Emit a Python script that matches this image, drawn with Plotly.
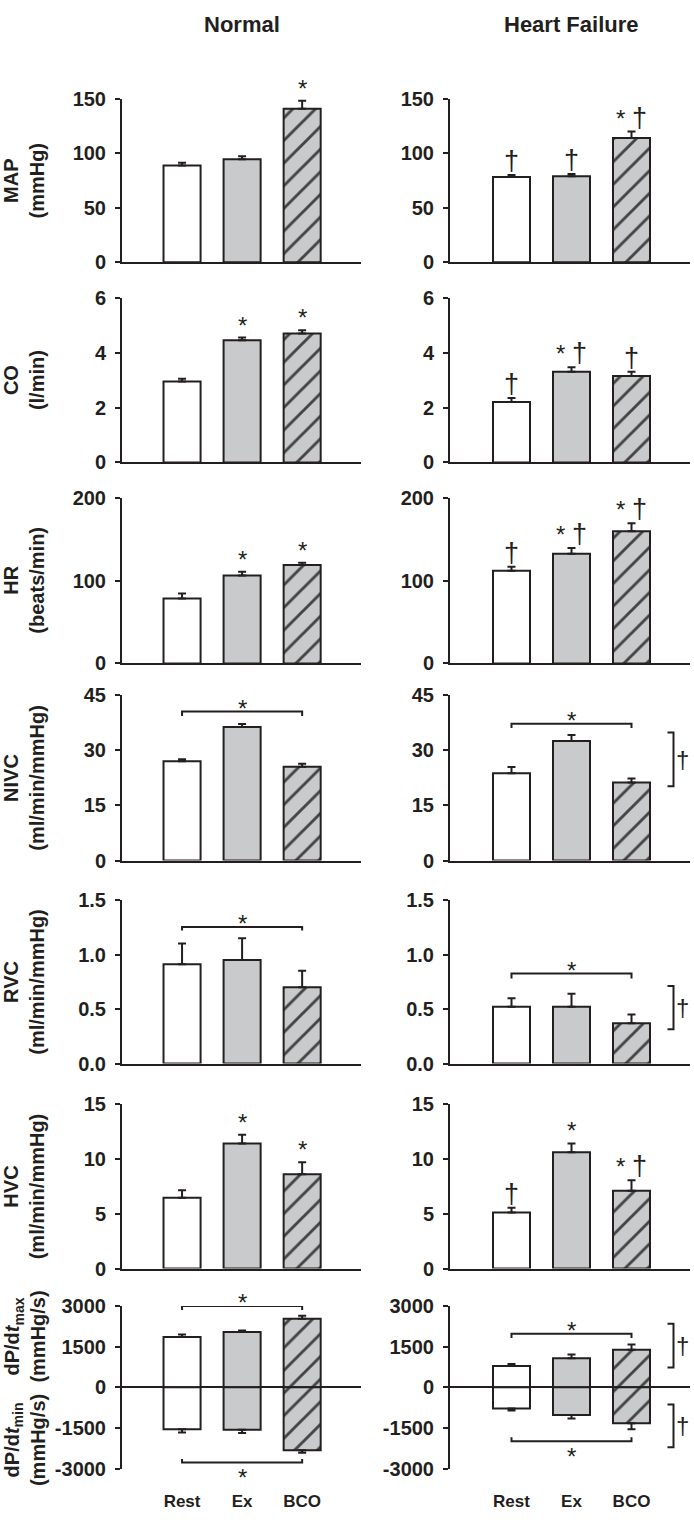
import plotly.graph_objects as go

W, H = 694, 1524
INK = "#231f20"
GRAY = "#c9cacc"
FONT = "Liberation Sans, Arial, sans-serif"

categories = ["Rest", "Ex", "BCO"]
xpos = [0, 1, 2]

# ---- data (mean and upward/outward error) ----
map_normal = [88.8, 94.6, 140.7]
map_normal_err = [2.5, 2.7, 7.5]
map_hf = [78.3, 78.9, 113.9]
map_hf_err = [1.8, 2.1, 6.0]

co_normal = [2.95, 4.45, 4.70]
co_normal_err = [0.10, 0.10, 0.12]
co_hf = [2.20, 3.30, 3.15]
co_hf_err = [0.15, 0.17, 0.15]

hr_normal = [78.5, 106.3, 118.8]
hr_normal_err = [6.0, 4.5, 2.7]
hr_hf = [112.0, 132.6, 159.7]
hr_hf_err = [4.7, 6.8, 9.6]

nivc_normal = [27.0, 36.3, 25.5]
nivc_normal_err = [0.5, 0.8, 0.8]
nivc_hf = [23.7, 32.5, 21.2]
nivc_hf_err = [1.7, 1.6, 1.1]

rvc_normal = [0.91, 0.95, 0.70]
rvc_normal_err = [0.19, 0.20, 0.15]
rvc_hf = [0.52, 0.52, 0.37]
rvc_hf_err = [0.08, 0.12, 0.08]

hvc_normal = [6.45, 11.4, 8.6]
hvc_normal_err = [0.7, 0.8, 1.1]
hvc_hf = [5.1, 10.6, 7.1]
hvc_hf_err = [0.45, 0.8, 0.95]

dpmax_normal = [1860, 2040, 2530]
dpmax_normal_err = [85, 60, 110]
dpmin_normal = [-1545, -1565, -2325]
dpmin_normal_err = [120, 120, 85]
dpmax_hf = [790, 1070, 1385]
dpmax_hf_err = [72, 146, 194]
dpmin_hf = [-777, -1020, -1324]
dpmin_hf_err = [73, 134, 219]

# ---- significance marks above bars ----
sig_map_normal = ["", "", "*"]
sig_map_hf = ["†", "†", "* †"]
sig_co_normal = ["", "*", "*"]
sig_co_hf = ["†", "* †", "†"]
sig_hr_normal = ["", "*", "*"]
sig_hr_hf = ["†", "* †", "* †"]
sig_hvc_normal = ["", "*", "*"]
sig_hvc_hf = ["†", "*", "* †"]

# ---- comparison brackets: [x0, x1, level, end level] ----
nivc_normal_bracket = [0, 2, 40.5, 39.3]
nivc_hf_bracket = [0, 2, 37.2, 36.0]
nivc_hf_dagger = [34.8, 20.2]
rvc_normal_bracket = [0, 2, 1.253, 1.22]
rvc_hf_bracket = [0, 2, 0.825, 0.78]
rvc_hf_dagger = [0.711, 0.314]
dp_normal_top = [0, 2, 3000, 2854]
dp_normal_bottom = [0, 2, -2769, -2648]
dp_hf_top = [0, 2, 1980, 1822]
dp_hf_bottom = [0, 2, -1992, -1846]
dp_hf_dagger_top = [2344, 729]
dp_hf_dagger_bottom = [-632, -2211]

# ---- axis ticks ----
map_ticks = [0, 50, 100, 150]
co_ticks = [0, 2, 4, 6]
hr_ticks = [0, 100, 200]
nivc_ticks = [0, 15, 30, 45]
rvc_ticks = [0, 0.5, 1.0, 1.5]
rvc_tick_labels = ["0.0", "0.5", "1.0", "1.5"]
hvc_ticks = [0, 5, 10, 15]
dp_ticks = [-3000, -1500, 0, 1500, 3000]
dp_tick_labels = ["-3000", "-1500", "0", "1500", "3000"]

panels = [
    dict(name="MAP", unit="(mmHg)", ticks=map_ticks, labels=None,
         data=[(map_normal, map_normal_err, sig_map_normal), (map_hf, map_hf_err, sig_map_hf)]),
    dict(name="CO", unit="(l/min)", ticks=co_ticks, labels=None,
         data=[(co_normal, co_normal_err, sig_co_normal), (co_hf, co_hf_err, sig_co_hf)]),
    dict(name="HR", unit="(beats/min)", ticks=hr_ticks, labels=None,
         data=[(hr_normal, hr_normal_err, sig_hr_normal), (hr_hf, hr_hf_err, sig_hr_hf)]),
    dict(name="NIVC", unit="(ml/min/mmHg)", ticks=nivc_ticks, labels=None,
         data=[(nivc_normal, nivc_normal_err, None), (nivc_hf, nivc_hf_err, None)],
         brackets=[[(nivc_normal_bracket, "up")], [(nivc_hf_bracket, "up")]],
         daggers=[[], [nivc_hf_dagger]]),
    dict(name="RVC", unit="(ml/min/mmHg)", ticks=rvc_ticks, labels=rvc_tick_labels,
         data=[(rvc_normal, rvc_normal_err, None), (rvc_hf, rvc_hf_err, None)],
         brackets=[[(rvc_normal_bracket, "up")], [(rvc_hf_bracket, "up")]],
         daggers=[[], [rvc_hf_dagger]]),
    dict(name="HVC", unit="(ml/min/mmHg)", ticks=hvc_ticks, labels=None,
         data=[(hvc_normal, hvc_normal_err, sig_hvc_normal), (hvc_hf, hvc_hf_err, sig_hvc_hf)]),
    dict(name="dP", unit=None, ticks=dp_ticks, labels=dp_tick_labels,
         dp=[(dpmax_normal, dpmax_normal_err, dpmin_normal, dpmin_normal_err),
             (dpmax_hf, dpmax_hf_err, dpmin_hf, dpmin_hf_err)],
         brackets=[[(dp_normal_top, "up"), (dp_normal_bottom, "down")],
                   [(dp_hf_top, "up"), (dp_hf_bottom, "down")]],
         daggers=[[], [dp_hf_dagger_top, dp_hf_dagger_bottom]]),
]

# layout geometry in pixels
panel_px = [(89, 255), (291, 458), (494, 662), (694, 862), (902, 1068), (1109, 1276), (1314, 1479)]
side_px = [(122, 361), (450, 690)]
side_range = [[-1.0, 2.98], [-1.025, 2.975]]
BAR_W = 0.617

fill_colors = ["white", GRAY, GRAY]
pattern_shapes = ["", "", "/"]

fig = go.Figure()
annotations = []
layout_axes = {}


def mark_html(t):
    # asterisk and dagger drawn at slightly different sizes
    out = []
    for ch in t:
        if ch == "†":
            out.append('<span style="font-size:27px">†</span>')
        elif ch == "*":
            out.append('<span style="font-size:24px">*</span>')
        else:
            out.append(ch)
    return "".join(out)


def bar_trace(vals, errs, xa, ya, down=False):
    if down:
        ey = dict(type="data", symmetric=False, array=[0] * len(errs), arrayminus=errs,
                  color=INK, thickness=2, width=4)
    else:
        ey = dict(type="data", symmetric=False, array=errs, arrayminus=[0] * len(errs),
                  color=INK, thickness=2, width=4)
    return go.Bar(
        x=xpos, y=vals, width=BAR_W, xaxis=xa, yaxis=ya, error_y=ey,
        marker=dict(color=fill_colors, line=dict(color=INK, width=2),
                    pattern=dict(shape=pattern_shapes, fgcolor=INK, size=16,
                                 solidity=0.18, fillmode="overlay", fgopacity=1)),
        showlegend=False, hoverinfo="skip")


def line_trace(xs, ys, xa, ya):
    return go.Scatter(x=xs, y=ys, mode="lines", xaxis=xa, yaxis=ya, cliponaxis=False,
                      line=dict(color=INK, width=2), showlegend=False, hoverinfo="skip")


for p, panel in enumerate(panels):
    top, bot = panel_px[p]
    ydom = [1 - bot / H, 1 - top / H]
    tks = panel["ticks"]
    is_dp = "dp" in panel
    for s in range(2):
        n = p * 2 + s + 1
        xa, ya = f"x{n}", f"y{n}"
        xkey = "xaxis" if n == 1 else f"xaxis{n}"
        ykey = "yaxis" if n == 1 else f"yaxis{n}"
        x0, x1 = side_px[s]
        layout_axes[xkey] = dict(
            domain=[x0 / W, x1 / W], range=side_range[s], anchor=ya,
            showgrid=False, zeroline=False, showline=not is_dp, linewidth=2, linecolor=INK,
            ticks="", tickvals=xpos, ticktext=categories,
            showticklabels=(p == len(panels) - 1),
            tickfont=dict(family=FONT, size=17, color=INK, weight="bold"),
            ticklabelstandoff=20, fixedrange=True)
        yax = dict(
            domain=ydom, range=[tks[0], tks[-1]], anchor=xa,
            tickvals=tks, ticks="outside", ticklen=5, tickwidth=2,
            tickcolor=INK, showline=True, linewidth=2, linecolor=INK, showgrid=False,
            zeroline=is_dp, zerolinewidth=2, zerolinecolor=INK,
            tickfont=dict(family=FONT, size=20, color=INK, weight="bold"),
            ticklabelstandoff=5, fixedrange=True)
        if panel["labels"]:
            yax["ticktext"] = panel["labels"]
        else:
            yax["tickformat"] = "d"
        layout_axes[ykey] = yax

        if is_dp:
            vmax, emax, vmin, emin = panel["dp"][s]
            fig.add_trace(bar_trace(vmax, emax, xa, ya))
            fig.add_trace(bar_trace(vmin, emin, xa, ya, down=True))
        else:
            vals, errs, sig = panel["data"][s]
            fig.add_trace(bar_trace(vals, errs, xa, ya))
            if sig:
                for i, t in enumerate(sig):
                    if t:
                        annotations.append(dict(
                            x=xpos[i], y=vals[i] + errs[i], xref=xa, yref=ya,
                            text=mark_html(t), showarrow=False, yanchor="bottom", yshift=-3,
                            font=dict(family=FONT, size=24, color=INK)))
        for br, direction in panel.get("brackets", [[], []])[s]:
            bx0, bx1, lvl, endl = br
            fig.add_trace(line_trace([bx0, bx0, bx1, bx1], [endl, lvl, lvl, endl], xa, ya))
            annotations.append(dict(
                x=(bx0 + bx1) / 2, y=lvl, xref=xa, yref=ya, text="*", showarrow=False,
                yanchor="bottom" if direction == "up" else "top",
                yshift=-12 if direction == "up" else 0,
                font=dict(family=FONT, size=24, color=INK)))
        for dg in panel.get("daggers", [[], []])[s]:
            ytop, ybot = dg
            fig.add_trace(line_trace([2.60, 2.70, 2.70, 2.60], [ytop, ytop, ybot, ybot], xa, ya))
            annotations.append(dict(
                x=2.85, y=(ytop + ybot) / 2, xref=xa, yref=ya, text="†", showarrow=False,
                xanchor="center", yanchor="middle",
                font=dict(family=FONT, size=24, color=INK)))

    # y-axis titles
    cy = 1 - ((top + bot) / 2) / H
    if panel["unit"]:
        annotations.append(dict(
            x=24 / W, y=cy, xref="paper", yref="paper", textangle=-90,
            text=f"<b>{panel['name']}</b><br><b>{panel['unit']}</b>", showarrow=False,
            xanchor="center", yanchor="middle",
            font=dict(family=FONT, size=20, color=INK)))
    else:
        annotations.append(dict(
            x=25 / W, y=1 - 1345 / H, xref="paper", yref="paper", textangle=-90,
            text="<b>dP/d<i>t</i><sub>max</sub></b><br><b>(mmHg/s)</b>", showarrow=False,
            xanchor="center", yanchor="middle",
            font=dict(family=FONT, size=20, color=INK)))
        annotations.append(dict(
            x=25 / W, y=1 - 1450 / H, xref="paper", yref="paper", textangle=-90,
            text="<b>dP/d<i>t</i><sub>min</sub></b><br><b>(mmHg/s)</b>", showarrow=False,
            xanchor="center", yanchor="middle",
            font=dict(family=FONT, size=20, color=INK)))

# column titles
for label, cx in [("Normal", 241.5), ("Heart Failure", 571.5)]:
    annotations.append(dict(
        x=cx / W, y=1 - 14 / H, xref="paper", yref="paper", text=f"<b>{label}</b>",
        showarrow=False, xanchor="center", yanchor="middle",
        font=dict(family=FONT, size=22, color=INK)))

fig.update_layout(
    width=W, height=H, margin=dict(l=0, r=0, t=0, b=0),
    paper_bgcolor="white", plot_bgcolor="white", barmode="overlay",
    annotations=annotations, showlegend=False, **layout_axes)

fig.write_html("out.html", config={"displayModeBar": False},
               post_script="document.body.style.margin='0';")
